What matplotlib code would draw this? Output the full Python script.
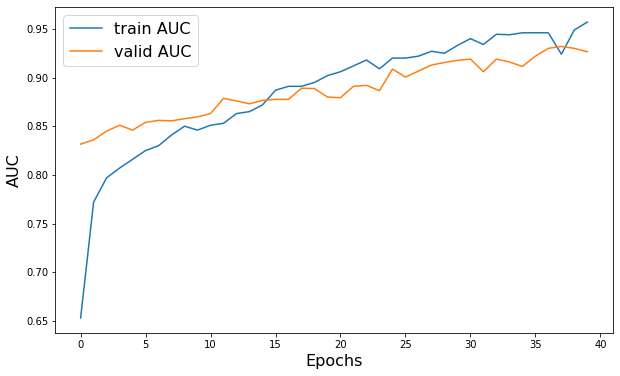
import matplotlib
matplotlib.use("Agg")
import matplotlib.pyplot as plt

epochs = list(range(40))
train_auc = [0.653, 0.772, 0.797, 0.807, 0.816, 0.825, 0.830, 0.841, 0.850, 0.846,
             0.851, 0.853, 0.863, 0.865, 0.872, 0.887, 0.891, 0.891, 0.895, 0.902,
             0.906, 0.912, 0.918, 0.909, 0.920, 0.920, 0.922, 0.927, 0.925, 0.933,
             0.940, 0.934, 0.9445, 0.944, 0.946, 0.946, 0.946, 0.924, 0.949, 0.957]
valid_auc = [0.8316, 0.836, 0.845, 0.851, 0.846, 0.854, 0.856, 0.8555, 0.8577, 0.8596,
             0.863, 0.8786, 0.876, 0.873, 0.8766, 0.8776, 0.8776, 0.889, 0.8887, 0.880,
             0.8793, 0.891, 0.892, 0.8865, 0.9087, 0.9005, 0.9067, 0.9128, 0.9155, 0.9176,
             0.919, 0.906, 0.919, 0.916, 0.9114, 0.922, 0.930, 0.932, 0.930, 0.9265]

fig = plt.figure(figsize=(620 / 72, 376 / 72), dpi=72)
ax = fig.add_axes([55.3 / 620, 1 - 332.7 / 376, (612.7 - 55.3) / 620, (332.7 - 7.3) / 376])
ax.plot(epochs, train_auc, label="train AUC")
ax.plot(epochs, valid_auc, label="valid AUC")
ax.set_xlabel("Epochs", fontsize=16)
ax.set_ylabel("AUC", fontsize=16)
ax.legend(fontsize=16, loc="upper left")
fig.savefig("out.png", dpi=72)
